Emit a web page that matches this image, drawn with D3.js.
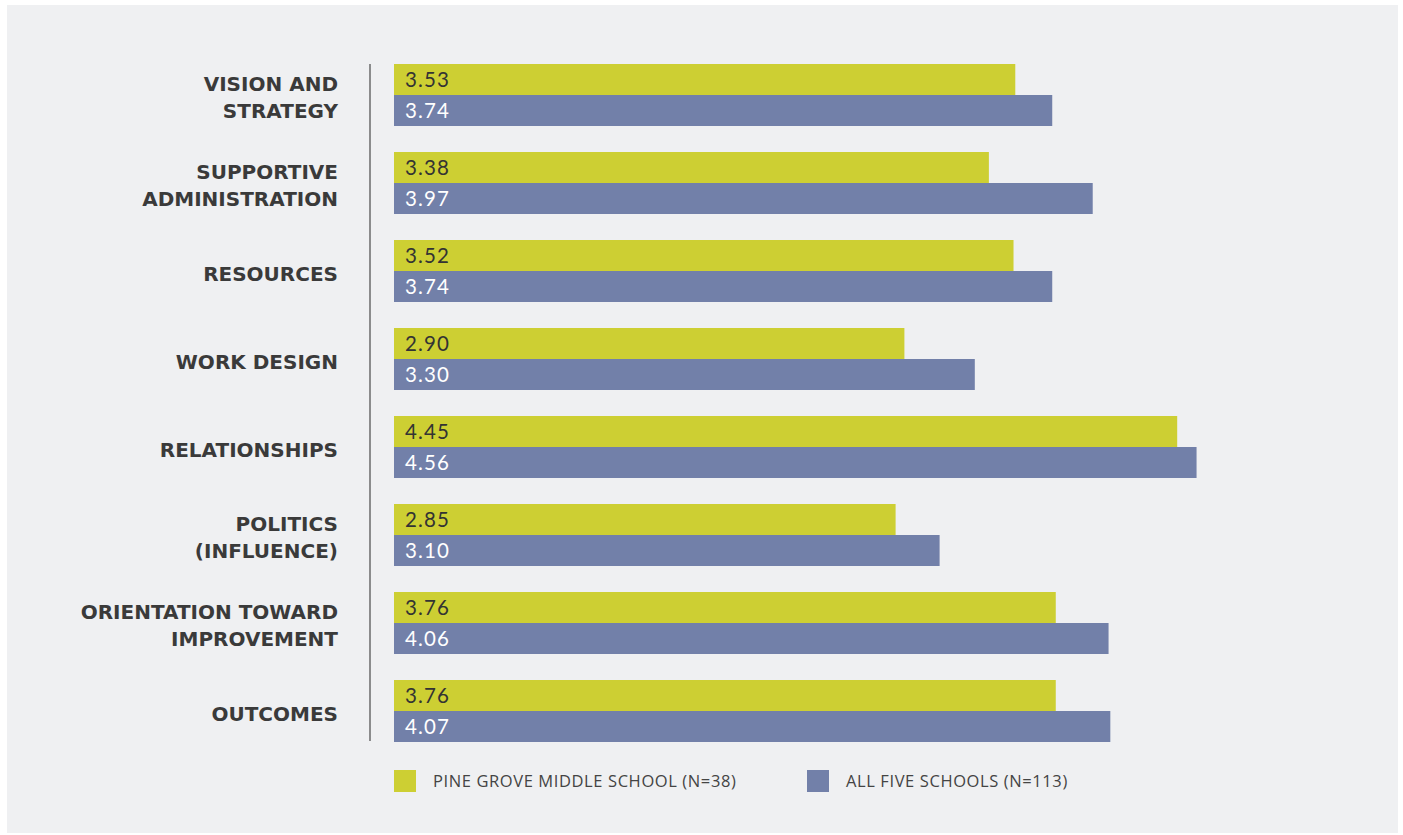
<!DOCTYPE html>
<html><head><meta charset="utf-8">
<script src="https://cdn.jsdelivr.net/npm/d3@7"></script>
<style>
html,body{margin:0;padding:0;background:#fff;}
svg{display:block;}
</style></head>
<body>
<svg id="chart" width="1403" height="835"></svg>
<script>
const categories = [
  ["VISION AND","STRATEGY"],
  ["SUPPORTIVE","ADMINISTRATION"],
  ["RESOURCES"],
  ["WORK DESIGN"],
  ["RELATIONSHIPS"],
  ["POLITICS","(INFLUENCE)"],
  ["ORIENTATION TOWARD","IMPROVEMENT"],
  ["OUTCOMES"]
];
const pineGrove = [3.53, 3.38, 3.52, 2.90, 4.45, 2.85, 3.76, 3.76];
const allFive   = [3.74, 3.97, 3.74, 3.30, 4.56, 3.10, 4.06, 4.07];
const seriesNames = ["PINE GROVE MIDDLE SCHOOL (N=38)", "ALL FIVE SCHOOLS (N=113)"];
const colors = ["#cdcf33", "#7280a9"];

const svg = d3.select("#chart");
svg.append("rect").attr("x",7).attr("y",5).attr("width",1391).attr("height",828).attr("fill","#eff0f2");

const x = d3.scaleLinear().domain([0,5]).range([394,1274]);
const y = d3.scaleBand().domain(d3.range(categories.length)).range([64, 768]).paddingInner(0).paddingOuter(0);
const barH = 31;

// axis line
svg.append("line").attr("x1",370).attr("x2",370).attr("y1",64).attr("y2",741)
  .attr("stroke","#555").attr("stroke-width",1.3);

const series = [pineGrove, allFive];
series.forEach((vals, si) => {
  const g = svg.append("g");
  g.selectAll("rect").data(vals).join("rect")
    .attr("x", x(0))
    .attr("y", (d,i) => y(i) + si*barH)
    .attr("width", d => x(d) - x(0))
    .attr("height", barH)
    .attr("fill", colors[si]);
  g.selectAll("text").data(vals).join("text")
    .attr("x", x(0) + 11)
    .attr("y", (d,i) => y(i) + si*barH + barH/2 + 7)
    .attr("font-family", "Lato, 'Open Sans', sans-serif")
    .attr("font-size", 20.5)
    .attr("letter-spacing", 1.1)
    .attr("fill", si === 0 ? "#333" : "#fff")
    .text(d => d.toFixed(2));
});

// category labels
const lab = svg.append("g");
categories.forEach((lines, i) => {
  const cy = y(i) + barH + 2.5;
  const n = lines.length;
  lines.forEach((t, j) => {
    lab.append("text")
      .attr("x", 338)
      .attr("y", cy + (j - (n-1)/2)*27 + 7)
      .attr("text-anchor","end")
      .attr("font-family","'DejaVu Sans', sans-serif")
      .attr("font-weight",700)
      .attr("font-size",20)
      .attr("fill","#3a3a3a")
      .text(t);
  });
});

// legend
const legX = [394, 807];
seriesNames.forEach((name, i) => {
  svg.append("rect").attr("x",legX[i]).attr("y",770).attr("width",22).attr("height",22).attr("fill",colors[i]);
  svg.append("text").attr("x",legX[i]+39).attr("y",787)
    .attr("font-family","'Open Sans', sans-serif").attr("font-size",16.5)
    .attr("font-weight",500).attr("letter-spacing",0.6)
    .attr("fill","#444").text(name);
});
</script>
</body></html>
